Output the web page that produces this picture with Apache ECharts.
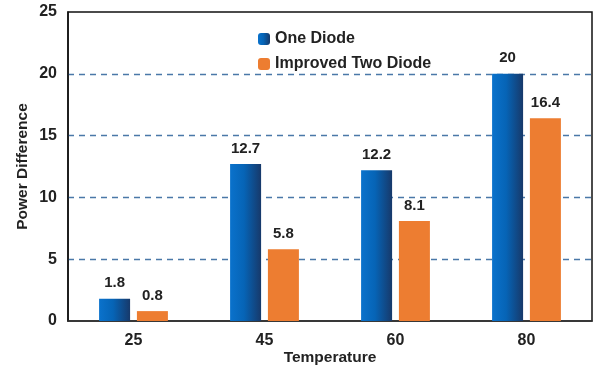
<!DOCTYPE html>
<html><head><meta charset="utf-8">
<script src="https://cdn.jsdelivr.net/npm/echarts@6/dist/echarts.min.js"></script>
<style>html,body{margin:0;padding:0;background:#fff}#c{width:594px;height:368px}</style>
</head><body><div id="c"></div>
<script>
const categories = ['25', '45', '60', '80'];
const oneDiode = [1.8, 12.7, 12.2, 20];
const twoDiode = [0.8, 5.8, 8.1, 16.4];
const seriesNames = ['One Diode', 'Improved Two Diode'];

const font = 'Liberation Sans, Arial, sans-serif';
const chart = echarts.init(document.getElementById('c'));
const blueGrad = new echarts.graphic.LinearGradient(0, 0, 1, 0, [
  {offset: 0, color: '#0a72cc'},
  {offset: 0.45, color: '#0664b6'},
  {offset: 1, color: '#17396a'}
]);
const lbl = {show: true, position: 'top', distance: 8, fontFamily: font, fontWeight: 'bold', fontSize: 15, color: '#222'};
chart.setOption({
  animation: false,
  grid: {left: 68, right: 2, top: 12, bottom: 47, show: true, borderColor: '#111', borderWidth: 1.5, backgroundColor: 'transparent', outerBoundsMode: 'none', containLabel: false},
  legend: {
    orient: 'vertical', left: 258, top: 31, padding: 0, itemWidth: 12, itemHeight: 12, itemGap: 9,
    textStyle: {fontFamily: font, fontWeight: 'bold', fontSize: 16, color: '#222'},
    data: seriesNames
  },
  xAxis: {
    type: 'category', data: categories,
    name: 'Temperature', nameLocation: 'middle', nameGap: 29, nameMoveOverlap: false,
    nameTextStyle: {fontFamily: font, fontWeight: 'bold', fontSize: 15.5, color: '#222'},
    axisLine: {lineStyle: {color: '#333', width: 1.5}},
    axisTick: {show: false},
    axisLabel: {fontFamily: font, fontWeight: 'bold', fontSize: 16, color: '#222', margin: 12}
  },
  yAxis: {
    type: 'value', min: 0, max: 25, interval: 5,
    name: 'Power Difference', nameLocation: 'middle', nameGap: 37, nameMoveOverlap: false,
    nameTextStyle: {fontFamily: font, fontWeight: 'bold', fontSize: 15.5, color: '#222'},
    axisLine: {show: true, lineStyle: {color: '#111', width: 1.5}},
    axisTick: {show: false},
    axisLabel: {fontFamily: font, fontWeight: 'bold', fontSize: 16, color: '#222', margin: 11},
    splitLine: {lineStyle: {type: [6, 5], width: 1.3, color: ['transparent', '#4a78a8', '#4a78a8', '#4a78a8', '#4a78a8', 'transparent']}}
  },
  series: [
    {name: seriesNames[0], type: 'bar', data: oneDiode, barWidth: 31, barGap: '22%',
     itemStyle: {color: blueGrad}, label: lbl},
    {name: seriesNames[1], type: 'bar', data: twoDiode, barWidth: 31,
     itemStyle: {color: '#ed7d31'}, label: lbl}
  ]
});
</script></body></html>
